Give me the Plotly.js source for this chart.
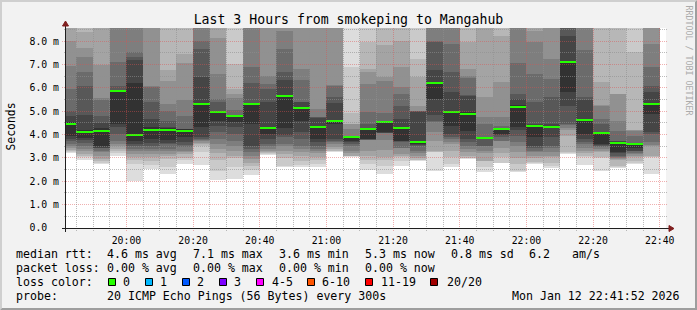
<!DOCTYPE html>
<html><head><meta charset="utf-8">
<script src="https://cdn.plot.ly/plotly-3.0.1.min.js"></script>
<style>html,body{margin:0;padding:0;background:#f2f2f2;} #chart{width:697px;height:310px;}</style>
</head><body><div id="chart"></div>
<script>
// ---------------- data ----------------
const DAY = "2026-01-12";
const intervalEnds = ["19:45","19:50","19:55","20:00","20:05","20:10","20:15","20:20","20:25","20:30","20:35","20:40",
  "20:45","20:50","20:55","21:00","21:05","21:10","21:15","21:20","21:25","21:30","21:35","21:40",
  "21:45","21:50","21:55","22:00","22:05","22:10","22:15","22:20","22:25","22:30","22:35","22:40"];
const medianMs = [4.47,4.12,4.14,5.85,4.00,4.22,4.20,4.17,5.30,4.95,4.79,5.30,
  4.27,5.67,5.14,4.31,4.59,3.88,4.23,4.55,4.27,3.70,6.22,4.97,
  4.90,3.85,4.25,5.20,4.37,4.32,7.12,4.62,4.07,3.65,3.58,5.30];
// 20 sorted ping RTTs (ms) per 5-minute step
const pingsMs = [
  [3.23,3.26,3.29,3.34,3.43,3.50,3.60,3.72,3.82,3.96, 4.56,4.81,5.00,5.96,6.96,8.00,8.80,9.10,9.40,9.70],
  [2.92,3.03,3.10,3.17,3.30,3.39,3.50,3.63,3.78,3.85, 4.20,4.86,6.10,6.67,7.32,7.72,8.39,8.80,9.10,9.40],
  [2.75,2.80,2.88,2.96,3.10,3.24,3.30,3.42,3.45,3.53, 4.30,4.50,4.82,5.49,5.57,7.00,8.80,9.10,9.40,9.70],
  [3.10,3.20,3.30,3.40,3.52,3.60,3.74,4.03,4.32,4.46, 5.87,5.89,6.10,7.10,8.80,9.00,9.20,9.50,9.80,10.10],
  [2.00,2.74,2.90,3.03,3.17,3.31,3.40,3.53,3.60,3.74, 6.23,7.20,7.34,7.56,8.80,9.00,9.20,9.50,9.80,10.10],
  [2.53,2.70,2.88,3.03,3.17,3.30,3.39,3.53,3.65,3.81, 4.31,4.67,5.39,6.03,6.10,8.80,9.00,9.30,9.60,9.90],
  [2.31,2.60,2.96,3.10,3.17,3.30,3.39,3.60,3.65,3.77, 4.28,4.31,4.57,5.00,5.31,6.29,6.77,8.80,9.10,9.40],
  [2.74,2.90,3.00,3.17,3.24,3.30,3.46,3.55,3.67,3.90, 4.24,4.25,4.26,4.82,5.49,7.06,7.46,8.90,9.20,9.50],
  [2.72,3.25,3.53,3.60,3.65,3.72,3.76,3.81,3.90,4.31, 5.35,6.46,7.67,8.00,8.90,9.10,9.40,9.70,10.00,10.30],
  [2.06,2.46,2.90,3.20,3.40,3.60,3.81,4.10,4.38,4.60, 4.97,5.00,5.38,5.53,6.60,8.14,8.80,9.10,9.40,9.70],
  [2.10,2.60,3.00,3.10,3.31,3.50,3.74,4.03,4.32,4.53, 4.80,4.81,4.82,5.05,5.57,5.74,5.96,7.03,8.90,9.30],
  [2.29,2.50,2.67,2.80,2.96,3.10,3.24,3.40,3.53,4.46, 5.35,5.36,6.20,6.92,8.90,9.10,9.40,9.70,10.00,10.30],
  [3.13,3.17,3.20,3.24,3.30,3.39,3.50,3.60,3.81,4.03, 4.30,5.39,5.96,6.17,6.53,8.90,9.10,9.40,9.70,10.00],
  [2.60,2.67,3.00,3.17,3.30,3.53,3.60,3.88,4.00,4.30, 5.72,6.35,6.67,7.67,8.43,8.90,9.20,9.50,9.80,10.10],
  [2.60,2.70,2.88,3.10,3.24,3.40,3.53,3.81,4.10,4.60, 5.20,5.39,5.40,6.35,6.81,8.90,9.20,9.50,9.80,10.10],
  [2.63,2.74,2.90,3.03,3.20,3.31,3.40,3.53,3.70,3.81, 4.35,4.73,4.74,4.75,5.10,8.90,9.20,9.50,9.80,10.10],
  [3.24,3.28,3.31,3.40,3.46,3.60,3.67,3.74,3.81,4.46, 4.63,5.34,5.63,6.10,6.12,8.90,9.10,9.40,9.70,10.00],
  [3.05,3.07,3.09,3.10,3.20,3.31,3.50,3.60,3.68,3.71, 3.91,3.92,3.93,3.96,4.24,4.45,4.46,4.91,6.90,9.00],
  [2.49,2.74,2.90,3.10,3.31,3.77,3.78,3.79,3.80,3.81, 4.28,4.29,4.46,4.96,6.17,6.67,6.81,7.96,9.00,9.30],
  [2.31,2.67,2.90,3.03,3.35,3.77,4.06,4.07,4.08,4.10, 4.58,4.59,4.60,4.91,6.29,6.49,7.86,8.90,9.20,9.50],
  [2.67,2.88,3.03,3.10,3.17,3.43,3.45,3.70,3.72,3.74, 4.32,4.67,5.24,5.74,6.03,6.88,8.00,8.90,9.20,9.50],
  [2.88,2.91,2.92,3.00,3.10,3.20,3.31,3.50,3.55,3.60, 3.75,4.99,5.00,5.01,5.02,5.24,6.46,7.24,8.90,9.30],
  [2.43,3.24,3.27,3.31,3.74,4.10,4.53,4.60,4.86,5.53, 6.25,6.77,7.99,8.00,8.90,9.20,9.50,9.80,10.10,10.40],
  [2.60,2.74,3.03,3.30,3.60,3.70,3.81,3.90,4.03,4.39, 5.00,5.81,6.67,7.89,8.90,9.20,9.50,9.80,10.10,10.40],
  [2.95,2.98,3.02,3.10,3.24,3.40,3.53,3.70,3.81,4.17, 4.95,5.67,5.68,6.43,6.50,6.81,7.96,8.90,9.20,9.50],
  [2.39,2.60,2.88,2.89,3.20,3.31,3.50,3.53,3.80,3.84, 3.87,3.88,3.89,4.46,4.74,5.60,8.90,9.20,9.50,9.80],
  [2.77,2.80,3.03,3.20,3.43,3.72,3.74,3.90,4.00,4.03, 4.28,4.29,4.30,4.39,4.74,6.24,8.24,8.90,9.20,9.50],
  [2.42,2.46,2.74,3.00,3.24,3.53,3.70,3.96,4.20,4.31, 5.25,5.53,5.74,7.06,8.90,9.20,9.50,9.80,10.10,10.40],
  [2.74,2.78,2.82,3.00,3.10,3.25,3.31,3.45,3.53,3.89, 4.40,4.46,5.39,6.60,7.96,8.46,8.90,9.20,9.50,9.80],
  [2.57,2.67,2.80,3.03,3.10,3.24,3.45,3.53,3.89,4.28, 4.34,4.46,5.60,6.39,7.24,8.90,9.20,9.50,9.80,10.10],
  [3.18,3.20,3.25,3.96,4.20,4.30,4.40,4.46,5.24,5.82, 7.15,8.23,8.90,9.10,9.30,9.50,9.80,10.10,10.40,10.70],
  [2.72,3.03,3.10,3.20,3.31,3.45,3.60,3.70,3.81,4.03, 4.65,5.48,5.63,7.63,8.90,9.20,9.50,9.80,10.10,10.40],
  [2.46,3.00,3.03,3.24,3.30,3.40,3.48,3.50,3.56,3.60, 4.09,4.10,4.46,4.67,5.24,5.25,6.24,8.90,9.20,9.50],
  [2.57,2.60,2.67,2.90,2.95,3.00,3.05,3.10,3.20,3.24, 3.70,3.72,3.74,4.14,4.60,5.74,5.75,8.90,9.20,9.50],
  [2.74,2.80,2.89,3.03,3.10,3.17,3.20,3.28,3.31,3.45, 3.62,3.63,3.64,3.96,4.17,4.18,4.19,7.55,8.90,9.20],
  [2.33,3.03,3.06,3.10,3.50,3.56,3.70,4.03,4.10,4.89, 5.33,5.84,6.09,6.90,7.90,8.90,9.20,9.50,9.80,10.10]
];
const smokeGrays = ["#dddddd","#cacaca","#b7b7b7","#a4a4a4","#919191","#7e7e7e","#6b6b6b","#585858","#454545","#323232"];
const lossLabels = ["0","1","2","3","4-5","6-10","11-19","20/20"];
const lossColors = ["#26ff00","#00b8ff","#0059ff","#7e00ff","#ff00ff","#ff5500","#ff0000","#a10000"];
const yTickVals = [0,1,2,3,4,5,6,7,8];
const yTickText = ["0.0\u00a0\u00a0","1.0 m","2.0 m","3.0 m","4.0 m","5.0 m","6.0 m","7.0 m","8.0 m"];
const rttStats = ["4.6 ms avg","7.1 ms max","3.6 ms min","5.3 ms now","0.8 ms sd","6.2"];
const lossStats = ["0.00 % avg","0.00 % max","0.00 % min","0.00 % now"];
const probeText = "20 ICMP Echo Pings (56 Bytes) every 300s";
const stampText = "Mon Jan 12 22:41:52 2026";
const titleText = "Last 3 Hours from smokeping to Mangahub";

// ---------------- geometry ----------------
const L = 66, T = 28, PW = 600, PH = 200, W = 697, H = 310;
const YMAX = 8.571;
const STEP = 300000;
const X0 = Date.parse(DAY + "T19:41:52Z"), X1 = Date.parse(DAY + "T22:41:52Z");
const px = p => (p - L) / PW;          // pixel x -> paper
const py = p => (T + PH - p) / PH;     // pixel y -> paper
const valPix = v => T + PH - v * PH / YMAX;                 // y value -> pixel
const timePix = ms => L + (ms - X0) / (X1 - X0) * PW;      // time -> pixel
const snap = p => Math.floor(p) + 0.5;
const MONO = "DejaVu Sans Mono";

const x = intervalEnds.map(t => DAY + " " + t + ":00");
const traces = [];
for (let k = 0; k < 10; k++) {
  traces.push({
    type: "bar", x: x,
    base: pingsMs.map(r => r[k]),
    y: pingsMs.map(r => r[19 - k] - r[k]),
    width: STEP, offset: -STEP,
    marker: {color: smokeGrays[k], line: {width: 0}},
    hoverinfo: "skip"
  });
}
const medHalf = 1 / (PH / YMAX);
traces.push({
  type: "bar", x: x,
  base: medianMs.map(m => m - medHalf),
  y: medianMs.map(() => 2 * medHalf),
  width: STEP, offset: -STEP,
  marker: {color: lossColors[0], line: {width: 0}},
  hoverinfo: "skip"
});

// ---------------- decorations ----------------
const shapes = [];
const GRID = "rgba(143,143,143,0.6)", MGRID = "rgba(222,79,79,0.45)";
const DOT = "1px,1px";
for (let i = 1; i <= 17; i++) {
  const major = (i % 2 === 0);
  const yy = snap(valPix(i * 0.5));
  shapes.push({type: "line", layer: "above", xref: "paper", yref: "paper",
    x0: px(major ? 62 : 64), x1: px(668), y0: py(yy), y1: py(yy),
    line: {color: major ? MGRID : GRID, width: 1, dash: DOT}});
}
const t0 = Date.parse(DAY + "T19:45:00Z");
for (let m = 0; m <= 175; m += 5) {
  const ms = t0 + m * 60000;
  const major = (new Date(ms).getUTCMinutes() % 20 === 0);
  const xx = snap(timePix(ms));
  shapes.push({type: "line", layer: "above", xref: "paper", yref: "paper",
    x0: px(xx), x1: px(xx), y0: py(231), y1: py(T),
    line: {color: major ? MGRID : GRID, width: 1, dash: DOT}});
}
// axes + arrows
shapes.push({type: "line", layer: "above", xref: "paper", yref: "paper",
  x0: px(62), x1: px(670), y0: py(228.5), y1: py(228.5), line: {color: "#1f1f1f", width: 1}});
shapes.push({type: "line", layer: "above", xref: "paper", yref: "paper",
  x0: px(65.5), x1: px(65.5), y0: py(232), y1: py(25), line: {color: "#1f1f1f", width: 1}});
const ARROW = "#801f1f";
shapes.push({type: "path", layer: "above", xref: "paper", yref: "paper",
  path: `M ${px(669)},${py(225.5)} L ${px(674)},${py(228.5)} L ${px(669)},${py(231.5)} Z`,
  fillcolor: ARROW, line: {color: ARROW, width: 1}});
shapes.push({type: "path", layer: "above", xref: "paper", yref: "paper",
  path: `M ${px(62.5)},${py(26)} L ${px(65.5)},${py(21)} L ${px(68.5)},${py(26)} Z`,
  fillcolor: ARROW, line: {color: ARROW, width: 1}});
// 3d frame
shapes.push({type: "path", layer: "above", xref: "paper", yref: "paper",
  path: `M ${px(0)},${py(310)} L ${px(2)},${py(308)} L ${px(2)},${py(2)} L ${px(695)},${py(2)} L ${px(697)},${py(0)} L ${px(0)},${py(0)} Z`,
  fillcolor: "#cfcfcf", line: {width: 0}});
shapes.push({type: "path", layer: "above", xref: "paper", yref: "paper",
  path: `M ${px(2)},${py(308)} L ${px(695)},${py(308)} L ${px(695)},${py(2)} L ${px(697)},${py(0)} L ${px(697)},${py(310)} L ${px(0)},${py(310)} Z`,
  fillcolor: "#9e9e9e", line: {width: 0}});

// legend boxes
const boxX = [108.5,145.5,182.5,219.5,256.5,307.5,365.5,430.5];
const labX = [122.7,160,197.3,234,271.7,322.3,380.7,446.7];
lossColors.forEach((c, i) => {
  shapes.push({type: "rect", layer: "above", xref: "paper", yref: "paper",
    x0: px(boxX[i]), x1: px(boxX[i] + 7), y0: py(278.5), y1: py(285.5),
    fillcolor: c, line: {color: "#000", width: 1}});
});

const ann = [];
function txt(xp, yp, s, opts) {
  ann.push(Object.assign({xref: "paper", yref: "paper", x: px(xp), y: py(yp), text: s,
    showarrow: false, xanchor: "left", yanchor: "middle", borderpad: 0, borderwidth: 0,
    font: {family: MONO, size: 11.6, color: "#000"}}, opts || {}));
}
const cols = [107,193,279,365,451,529];
txt(16, 254, "median rtt:");
rttStats.forEach((s, i) => txt(cols[i], 254, s));
txt(572, 254, "am/s");
txt(16, 268, "packet loss:");
lossStats.forEach((s, i) => txt(cols[i], 268, s));
txt(16, 282, "loss color:");
lossLabels.forEach((s, i) => txt(labX[i], 282, s));
txt(16, 296, "probe:");
txt(107, 296, probeText);
txt(680, 296, stampText, {xanchor: "right"});
txt(10, 126.5, "Seconds", {xanchor: "center", textangle: -90, font: {family: MONO, size: 11.4, color: "#000"}});
txt(688.5, 60, "RRDTOOL / TOBI OETIKER", {xanchor: "center", textangle: 90, font: {family: MONO, size: 8.3, color: "#ababab"}});

const layout = {
  width: W, height: H,
  margin: {l: L, r: W - L - PW, t: T, b: H - T - PH, pad: 0},
  paper_bgcolor: "#f2f2f2", plot_bgcolor: "#ffffff",
  barmode: "overlay", bargap: 0, showlegend: false,
  font: {family: MONO, color: "#000"},
  title: {text: titleText, font: {family: MONO, size: 13.2, color: "#000"},
    x: 0.5, xref: "container", xanchor: "center", y: 1 - 19 / H, yref: "container", yanchor: "middle"},
  xaxis: {type: "date", range: [DAY + " 19:41:52", DAY + " 22:41:52"],
    showgrid: false, zeroline: false, showline: false, fixedrange: true,
    tickmode: "linear", tick0: DAY + " 20:00:00", dtick: 1200000, tickformat: "%H:%M",
    ticks: "outside", ticklen: 3, tickwidth: 1, tickcolor: "rgba(0,0,0,0)",
    tickfont: {family: MONO, size: 9.8, color: "#000"}},
  yaxis: {range: [0, YMAX], showgrid: false, zeroline: false, showline: false, fixedrange: true,
    tickmode: "array", tickvals: yTickVals, ticktext: yTickText,
    ticks: "outside", ticklen: 4, tickwidth: 1, tickcolor: "rgba(0,0,0,0)",
    tickfont: {family: MONO, size: 9.8, color: "#000"}},
  shapes: shapes,
  annotations: ann
};
Plotly.newPlot("chart", traces, layout, {staticPlot: true, displayModeBar: false});
</script>
</body></html>
